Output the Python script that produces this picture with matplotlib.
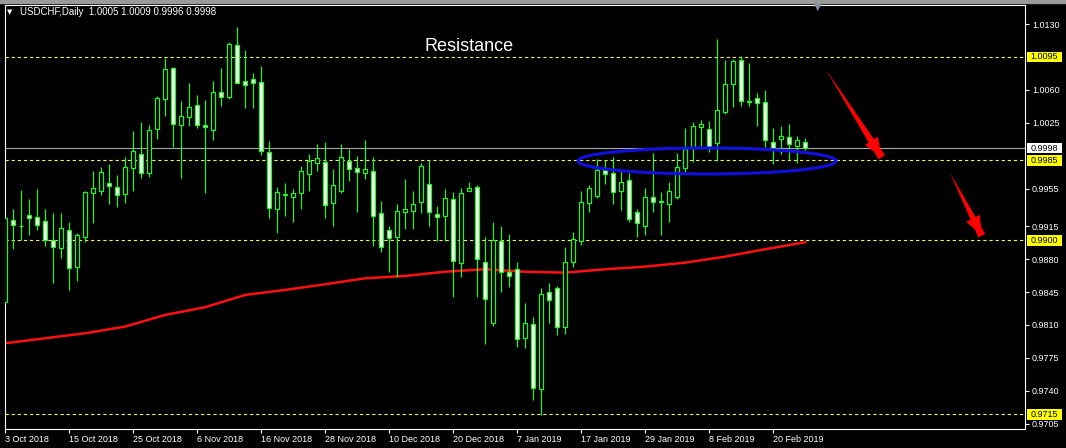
import matplotlib.pyplot as plt
from matplotlib.patches import Ellipse, Rectangle

plt.rcParams['font.family'] = ['Liberation Sans', 'DejaVu Sans']

# USDCHF daily candles, 3 Oct 2018 .. 26 Feb 2019
opens = [0.98348, 0.99216, 0.99155, 0.99270, 0.99252, 0.99206, 0.99004, 0.98915, 0.99110, 0.98720,
         0.99039, 0.99500, 0.99528, 0.99606, 0.99564, 0.99489, 0.99766, 0.99915, 0.99720, 1.00181,
         1.00500, 1.00829, 1.00223, 1.00308, 1.00436, 1.00223, 1.00170, 1.00581, 1.00528, 1.01077,
         1.00695, 1.00719, 1.00684, 0.99943, 0.99330, 0.99479, 0.99465, 0.99500, 0.99702, 0.99819,
         0.99837, 0.99394, 0.99528, 0.99844, 0.99766, 0.99720, 0.99741, 0.99287, 0.99110, 0.99032,
         0.99305, 0.99316, 0.99404, 0.99596, 0.99277, 0.99259, 0.99436, 0.98763, 0.99528, 0.99564,
         0.98773, 0.98124, 0.98997, 0.98660, 0.98692, 0.97958, 0.98110, 0.97415, 0.98447, 0.98490,
         0.98082, 0.98773, 0.98997, 0.99394, 0.99475, 0.99748, 0.99713, 0.99528, 0.99642, 0.99298,
         0.99156, 0.99457, 0.99404, 0.99387, 0.99465, 0.99766, 0.99986, 1.00209, 1.00181, 1.00039,
         1.00368, 1.00659, 1.00918, 1.00482, 1.00517, 1.00475, 1.00049, 1.00074, 1.00103, 1.00007,
         1.00050]
highs = [0.99252, 0.99330, 0.99535, 0.99436, 0.99546, 0.99330, 0.99287, 0.99294, 0.99199, 0.99075,
         0.99528, 0.99737, 0.99784, 0.99812, 0.99695, 0.99890, 1.00166, 1.00255, 1.00227, 1.00535,
         1.00936, 1.00847, 1.00482, 1.00670, 1.00546, 1.00493, 1.00695, 1.00836, 1.01113, 1.01272,
         1.01024, 1.00783, 1.00854, 1.00056, 0.99564, 0.99606, 0.99546, 0.99791, 0.99918, 1.00025,
         1.00042, 0.99755, 1.00021, 0.99972, 0.99897, 1.00067, 0.99883, 0.99418, 0.99152, 0.99387,
         0.99652, 0.99525, 0.99819, 0.99854, 0.99369, 0.99546, 0.99511, 0.99560, 0.99624, 0.99589,
         0.99032, 0.99199, 0.99156, 0.99064, 0.98773, 0.98337, 0.98188, 0.98490, 0.98543, 0.98518,
         0.98926, 0.99085, 0.99525, 0.99589, 0.99862, 0.99854, 0.99890, 0.99755, 0.99713, 0.99333,
         0.99553, 0.99932, 0.99511, 0.99617, 0.99925, 1.00191, 1.00255, 1.00280, 1.00273, 1.01141,
         1.00918, 1.00925, 1.00960, 1.00890, 1.00563, 1.00599, 1.00191, 1.00216, 1.00237, 1.00110,
         1.00090]
lows = [0.98330, 0.98904, 0.99004, 0.99057, 0.99110, 0.98943, 0.98550, 0.98809, 0.98472, 0.98571,
        0.98986, 0.99181, 0.99482, 0.99383, 0.99358, 0.99401, 0.99528, 0.99659, 0.99677, 1.00074,
        1.00326, 0.99996, 0.99659, 1.00216, 1.00198, 0.99507, 1.00067, 1.00429, 1.00500, 1.00670,
        1.00404, 1.00404, 0.99908, 0.99234, 0.99075, 0.99259, 0.99199, 0.99330, 0.99528, 0.99741,
        0.99241, 0.99156, 0.99500, 0.99631, 0.99298, 0.99652, 0.98940, 0.98880, 0.98660, 0.98614,
        0.99117, 0.99117, 0.99294, 0.99156, 0.98993, 0.98997, 0.98394, 0.98607, 0.99528, 0.98394,
        0.97894, 0.98089, 0.98454, 0.98507, 0.97862, 0.97859, 0.97302, 0.97143, 0.98124, 0.97993,
        0.98000, 0.98720, 0.98950, 0.99305, 0.99454, 0.99596, 0.99383, 0.99323, 0.99199, 0.99039,
        0.99057, 0.99298, 0.99057, 0.99199, 0.99440, 0.99730, 0.99830, 0.99971, 0.99943, 0.99847,
        1.00344, 1.00422, 1.00429, 1.00429, 1.00216, 0.99996, 0.99808, 0.99918, 0.99854, 0.99819,
        0.99960]
closes = [0.99234, 0.99163, 0.99150, 0.99234, 0.99163, 0.99004, 0.98926, 0.99128, 0.98702, 0.99057,
          0.99511, 0.99553, 0.99723, 0.99578, 0.99482, 0.99776, 0.99950, 0.99713, 1.00173, 1.00510,
          1.00819, 1.00234, 1.00326, 1.00422, 1.00230, 1.00202, 1.00574, 1.00521, 1.01092, 1.00670,
          1.00649, 1.00670, 0.99954, 0.99340, 0.99518, 0.99489, 0.99507, 0.99741, 0.99844, 0.99872,
          0.99376, 0.99589, 0.99883, 0.99755, 0.99730, 0.99755, 0.99259, 0.98933, 0.99021, 0.99316,
          0.99333, 0.99387, 0.99791, 0.99298, 0.99245, 0.99447, 0.98780, 0.99500, 0.99553, 0.98802,
          0.98376, 0.99004, 0.98660, 0.98624, 0.97951, 0.98124, 0.97426, 0.98426, 0.98366, 0.98075,
          0.98766, 0.99011, 0.99404, 0.99553, 0.99748, 0.99702, 0.99518, 0.99620, 0.99227, 0.99181,
          0.99465, 0.99411, 0.99418, 0.99525, 0.99776, 0.99968, 1.00216, 1.00234, 0.99996, 1.00386,
          1.00659, 1.00907, 1.00485, 1.00471, 1.00457, 1.00067, 0.99986, 1.00110, 1.00021, 1.00067,
          0.99980]

# moving average (red line), sampled every 5 bars
ma_idx = [0, 5, 10, 15, 20, 25, 30, 35, 40, 45, 50, 55, 60, 65, 70, 75, 80, 85, 90, 95, 100]
ma_vals = [0.97905, 0.97958, 0.98011, 0.98082, 0.98206, 0.98288, 0.98419, 0.98472, 0.98532, 0.98596,
           0.98621, 0.98666, 0.98692, 0.98666, 0.98656, 0.98692, 0.98720, 0.98762, 0.98826, 0.98905,
           0.98979]

date_pos = [0, 8, 16, 24, 32, 40, 48, 56, 64, 72, 80, 88, 96]
date_labels = ['3 Oct 2018', '15 Oct 2018', '25 Oct 2018', '6 Nov 2018', '16 Nov 2018', '28 Nov 2018',
               '10 Dec 2018', '20 Dec 2018', '7 Jan 2019', '17 Jan 2019', '29 Jan 2019', '8 Feb 2019',
               '20 Feb 2019']
price_ticks = [1.0130, 1.0060, 1.0025, 0.9955, 0.9915, 0.9880, 0.9845, 0.9810, 0.9775, 0.9740, 0.9705]
levels = [1.0095, 0.9985, 0.9900, 0.9715]
last_price = 0.9998

# annotations
ellipse_center = (87.75, 0.99844)
ellipse_size = (32.25, 0.00277)
arrows = [((102.6, 1.00819), (109.6, 0.99883)), ((118.1, 0.99724), (122.1, 0.99049))]

green = '#2AF02A'

fig = plt.figure(figsize=(10.66, 4.48), dpi=100, facecolor='black')
ax = fig.add_axes([5/1066, 19/448, 1020/1066, 424/448], facecolor='black')
ax.set_xlim(0, 127.5)
ax.set_ylim(0.96993, 1.01503)

# window strip on top
fig.patches.append(Rectangle((0, 1 - 3/448), 1, 3/448, transform=fig.transFigure,
                             color='#9a9a9a', zorder=0))

# levels
for lv in levels:
    ax.axhline(lv, color='#F2F25A', lw=0.8, ls=(0, (3, 2.5)), zorder=1)
ax.axhline(last_price, color='#A8A8A8', lw=0.8, zorder=1)

# MA
ax.plot(ma_idx, ma_vals, color='#FF1010', lw=1.8, solid_joinstyle='round', zorder=2)

# candles
x = list(range(len(opens)))
ax.vlines(x, lows, highs, color=green, lw=0.9, zorder=3)
for i in x:
    o, c = opens[i], closes[i]
    fill = 'black' if c >= o else '#F4FFF4'
    ax.bar(i, max(abs(c - o), 0.00002), bottom=min(o, c), width=0.6, color=fill,
           edgecolor=green, linewidth=0.9, zorder=4)

# support/resistance ellipse
ax.add_patch(Ellipse(ellipse_center, ellipse_size[0], ellipse_size[1], fill=False,
                     edgecolor='#1010E0', lw=2.2, zorder=5))

# red arrows: tapering shaft plus a narrow head
for start, tip in arrows:
    ax.annotate('', xy=start, xytext=tip,
                arrowprops=dict(arrowstyle='wedge,tail_width=0.55,shrink_factor=0.5',
                                color='#FF0000', lw=0, mutation_scale=10,
                                shrinkA=0, shrinkB=0), zorder=6)
    ax.annotate('', xy=tip, xytext=(start[0] + 0.75 * (tip[0] - start[0]),
                                    start[1] + 0.75 * (tip[1] - start[1])),
                arrowprops=dict(arrowstyle='-|>,head_length=1.4,head_width=0.55',
                                color='#FF0000', lw=0, mutation_scale=10,
                                shrinkA=0, shrinkB=0), zorder=6)

ax.text(58, 1.01014, 'Resistance', color='white', fontsize=13, ha='center', va='baseline')

# axes styling
for s in ax.spines.values():
    s.set_color('white')
    s.set_linewidth(0.8)
ax.yaxis.tick_right()
ax.set_yticks(price_ticks)
ax.set_yticklabels([f'{v:.4f}' for v in price_ticks])
ax.set_xticks(date_pos)
ax.set_xticklabels(date_labels, ha='left')
ax.tick_params(axis='both', colors='white', labelsize=6.5, length=3, width=0.8)
ax.tick_params(axis='y', pad=2)
ax.tick_params(axis='x', pad=1.5)

# highlighted price labels on the right scale
ytr = ax.get_yaxis_transform()
for lv, bg in [(v, '#FFFF00') for v in levels] + [(last_price, 'white')]:
    ax.add_patch(Rectangle((1 + 1.5/1020, lv - 0.00056), 35/1020, 0.00112, transform=ytr,
                           facecolor=bg, edgecolor='none', clip_on=False, zorder=7))
    ax.text(1 + 5.5/1020, lv, f'{lv:.4f}', transform=ytr, color='black', fontsize=6.5,
            va='center', ha='left', clip_on=False, zorder=8)

# header
fig.text(10/1066, 1 - 12/448, '\u25BC', color='white', fontsize=5, ha='center', va='center',
         family=['DejaVu Sans'])
fig.text(20/1066, 1 - 12/448, 'USDCHF,Daily  1.0005 1.0009 0.9996 0.9998', color='white',
         fontsize=7, ha='left', va='center')
fig.text(818/1066, 1 - 7/448, '\u25BC', color='#8090A0', fontsize=7, ha='center', va='center',
         family=['DejaVu Sans'], zorder=10)

fig.savefig('out.png', dpi=100, facecolor='black')
